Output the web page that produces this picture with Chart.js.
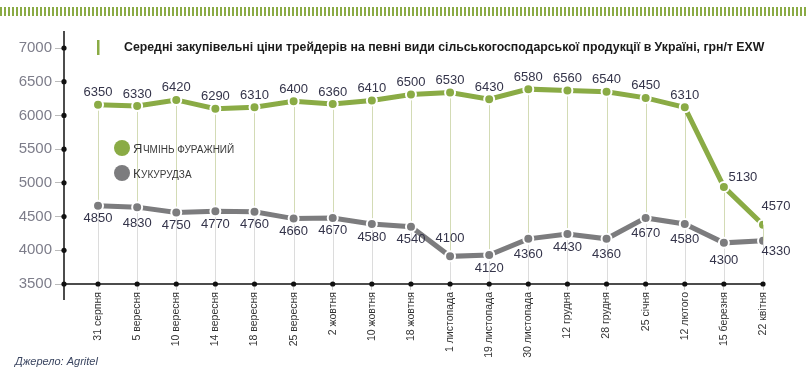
<!DOCTYPE html>
<html>
<head>
<meta charset="utf-8">
<script src="https://cdn.jsdelivr.net/npm/chart.js@4/dist/chart.umd.min.js"></script>
<style>
  html, body { margin: 0; padding: 0; background: #fff; }
  #wrap { width: 806px; height: 380px; position: relative; }
</style>
</head>
<body>
<div id="wrap"><canvas id="c" width="806" height="380"></canvas></div>
<script>
// ---- data ----
const categories = ['31 серпня','5 вересня','10 вересня','14 вересня','18 вересня','25 вересня','2 жовтня','10 жовтня','18 жовтня','1 листопада','19 листопада','30 листопада','12 грудня','28 грудня','25 січня','12 лютого','15 березня','22 квітня'];
const barleyValues = [6350,6330,6420,6290,6310,6400,6360,6410,6500,6530,6430,6580,6560,6540,6450,6310,5130,4570];
const cornValues   = [4850,4830,4750,4770,4760,4660,4670,4580,4540,4100,4120,4360,4430,4360,4670,4580,4300,4330];
const yTickLabels  = ['3500','4000','4500','5000','5500','6000','6500','7000'];
const seriesNames  = ['Ячмінь фуражний','Кукурудза'];
const titleText    = 'Середні закупівельні ціни трейдерів на певні види сільськогосподарської продукції в Україні, грн/т EXW';
const sourceText   = 'Джерело: Agritel';
// In the reference the plotted points sit ~190 below their printed values relative to the axis labels
const AXIS_SHIFT = 190;

const GREEN = '#8aab45';
const GREY = '#7c7c7e';
const FONT = '"Liberation Sans", Arial, sans-serif';

// label offsets (styling): default above for barley, below for corn
const labelOffsets = {
  0: { 16: [19, -9], 17: [13, -18] },
  1: { 9: [0, -18], 16: [0, 18], 17: [13, 11], 1: [0, 16], 11: [0, 16], 13: [0, 16], 14: [0, 16], 15: [0, 15] }
};
const defaultOffset = { 0: [0, -12], 1: [0, 13] };

const decor = {
  id: 'decor',
  beforeDraw(chart) {
    const ctx = chart.ctx;
    ctx.save();
    ctx.strokeStyle = GREEN;
    ctx.lineWidth = 2;
    for (let x = 1; x < 806; x += 4) {
      ctx.beginPath(); ctx.moveTo(x, 7); ctx.lineTo(x, 16); ctx.stroke();
    }
    ctx.restore();
  },
  beforeDatasetsDraw(chart) {
    const ctx = chart.ctx, xs = chart.scales.x, ys = chart.scales.y;
    const g = chart.getDatasetMeta(0).data, k = chart.getDatasetMeta(1).data;
    ctx.save();
    ctx.lineWidth = 1;
    categories.forEach((c, i) => {
      const x = Math.round(xs.getPixelForValue(i)) + 0.5;
      ctx.strokeStyle = '#d3dbb5';
      ctx.beginPath(); ctx.moveTo(x, g[i].y); ctx.lineTo(x, k[i].y); ctx.stroke();
      ctx.strokeStyle = '#dcdcdc';
      ctx.beginPath(); ctx.moveTo(x, k[i].y); ctx.lineTo(x, ys.bottom); ctx.stroke();
    });
    const ax = xs.left, ay = ys.bottom;
    ctx.strokeStyle = '#111';
    ctx.lineWidth = 1.5;
    ctx.beginPath(); ctx.moveTo(ax, 31); ctx.lineTo(ax, 300); ctx.stroke();
    ctx.beginPath(); ctx.moveTo(ax, ay); ctx.lineTo(xs.getPixelForValue(categories.length - 1), ay); ctx.stroke();
    ctx.fillStyle = '#111';
    ys.ticks.forEach(t => {
      const y = ys.getPixelForValue(t.value);
      ctx.beginPath(); ctx.arc(ax, y, 2.6, 0, Math.PI * 2); ctx.fill();
    });
    xs.ticks.forEach(t => {
      const x = xs.getPixelForValue(t.value);
      ctx.beginPath(); ctx.arc(x, ay, 2.6, 0, Math.PI * 2); ctx.fill();
    });
    ctx.restore();
  },
  afterDatasetsDraw(chart) {
    const ctx = chart.ctx;
    ctx.save();
    ctx.font = '13px ' + FONT;
    ctx.fillStyle = '#34344a';
    ctx.textAlign = 'center';
    ctx.textBaseline = 'middle';
    chart.data.datasets.forEach((ds, di) => {
      chart.getDatasetMeta(di).data.forEach((pt, i) => {
        const off = (labelOffsets[di] && labelOffsets[di][i]) || defaultOffset[di];
        ctx.fillText(String(ds.data[i].y), pt.x + off[0], pt.y + off[1]);
      });
    });
    ctx.restore();
  },
  afterDraw(chart) {
    const ctx = chart.ctx;
    ctx.save();
    ctx.fillStyle = GREEN;
    ctx.fillRect(97, 40, 2.5, 15);
    ctx.fillStyle = '#1a1a1a';
    ctx.font = 'bold 12.3px ' + FONT;
    ctx.textBaseline = 'middle';
    ctx.textAlign = 'left';
    ctx.fillText(titleText, 124, 47.5);
    const legendY = [148, 173];
    chart.data.datasets.forEach((ds, di) => {
      const y = legendY[di];
      ctx.fillStyle = ds.borderColor;
      ctx.beginPath(); ctx.arc(122, y, 8, 0, Math.PI * 2); ctx.fill();
      const name = ds.label;
      ctx.fillStyle = '#3a3a3a';
      ctx.font = '13px ' + FONT;
      ctx.textBaseline = 'alphabetic';
      const first = name[0];
      ctx.fillText(first, 133, y + 5);
      const w = ctx.measureText(first).width;
      ctx.font = '10px ' + FONT;
      ctx.fillText(name.slice(1).toUpperCase(), 133 + w + 0.5, y + 5);
    });
    ctx.fillStyle = '#3a4560';
    ctx.font = 'italic 11px ' + FONT;
    ctx.textBaseline = 'middle';
    ctx.fillText(sourceText, 15, 362);
    ctx.restore();
  }
};

new Chart(document.getElementById('c'), {
  type: 'line',
  data: {
    datasets: [
      { label: seriesNames[0], data: barleyValues.map((v, i) => ({ x: i, y: v })),
        borderColor: GREEN, backgroundColor: GREEN, borderWidth: 5,
        pointRadius: 5, pointBackgroundColor: GREEN, pointBorderColor: '#fff', pointBorderWidth: 2, tension: 0 },
      { label: seriesNames[1], data: cornValues.map((v, i) => ({ x: i, y: v })),
        borderColor: GREY, backgroundColor: GREY, borderWidth: 5,
        pointRadius: 5, pointBackgroundColor: GREY, pointBorderColor: '#fff', pointBorderWidth: 2, tension: 0 }
    ]
  },
  options: {
    responsive: false,
    animation: false,
    devicePixelRatio: 1,
    layout: { padding: { left: 0, top: 48, right: 43, bottom: 0 } },
    plugins: { legend: { display: false }, title: { display: false }, tooltip: { enabled: false } },
    scales: {
      x: {
        type: 'linear',
        min: -0.87,
        max: categories.length - 1,
        afterBuildTicks: axis => { axis.ticks = categories.map((c, i) => ({ value: i })); },
        afterFit: axis => { axis.height = 96; },
        border: { display: false },
        grid: { drawOnChartArea: false, drawTicks: true, tickLength: 6, color: '#cccccc' },
        ticks: {
          autoSkip: false, minRotation: 90, maxRotation: 90, padding: 2,
          color: '#333', font: { family: FONT, size: 10.5 },
          callback: v => categories[v]
        }
      },
      y: {
        min: 3500 + AXIS_SHIFT,
        max: 7000 + AXIS_SHIFT,
        afterFit: axis => { axis.width = 64; },
        border: { display: false },
        grid: { drawOnChartArea: false, drawTicks: true, tickLength: 9, color: '#bbbbbb' },
        ticks: {
          stepSize: 500, padding: 3,
          color: '#7d7d8a', font: { family: FONT, size: 15 },
          callback: (v, i) => yTickLabels[i]
        }
      }
    }
  },
  plugins: [decor]
});
</script>
</body>
</html>
